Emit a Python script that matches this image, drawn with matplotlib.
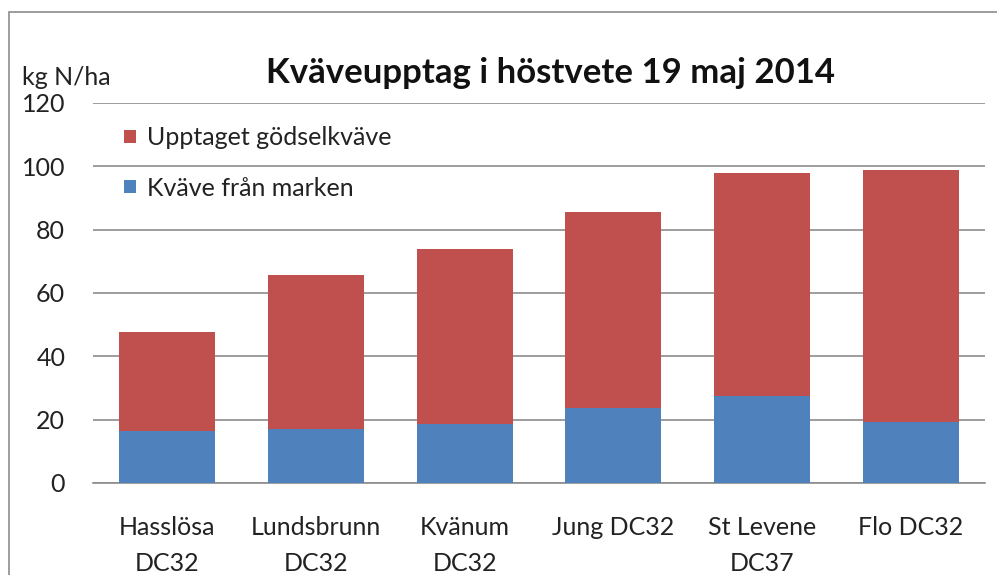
import matplotlib.pyplot as plt
from matplotlib.patches import Rectangle

plt.rcParams['font.family'] = ['Lato', 'DejaVu Sans']

sites = ['Hasslösa\nDC32', 'Lundsbrunn\nDC32', 'Kvänum\nDC32', 'Jung DC32', 'St Levene\nDC37', 'Flo DC32']
mark = [16.4, 16.9, 18.5, 23.6, 27.5, 19.4]       # Kväve från marken
total = [47.8, 65.8, 74.0, 85.7, 97.8, 98.8]
godsel = [t - m for t, m in zip(total, mark)]      # Upptaget gödselkväve

blue = '#4F81BD'
red = '#C0504D'

fig = plt.figure(figsize=(9.97, 5.75), dpi=100)
ax = fig.add_axes([0.0933, 0.16, 0.8947, 0.661])

x = range(len(sites))
b1 = ax.bar(x, mark, width=0.645, color=blue, label='Kväve från marken', zorder=3)
b2 = ax.bar(x, godsel, bottom=mark, width=0.645, color=red, label='Upptaget gödselkväve', zorder=3)

ax.set_xlim(-0.5, len(sites) - 0.5)
ax.set_ylim(0, 120)
ax.set_yticks(range(0, 121, 20))
ax.yaxis.grid(True, color='#8c8c8c', linewidth=1.2, zorder=0)
for s in ['top', 'right', 'left']:
    ax.spines[s].set_visible(False)
ax.spines['bottom'].set_color('#8c8c8c')
ax.spines['bottom'].set_linewidth(1.2)
ax.tick_params(axis='y', length=0, pad=20, labelsize=18, colors='#222222')
ax.tick_params(axis='x', length=0, pad=24, labelsize=18, colors='#222222')
ax.set_xticks(list(x))
ax.set_xticklabels(sites, linespacing=1.65)

leg = ax.legend(handles=[b2, b1], loc='upper left', bbox_to_anchor=(0.01, 0.998),
                frameon=False, fontsize=18, handlelength=0.45, handleheight=0.45,
                handletextpad=0.45, labelspacing=1.1)
for t in leg.get_texts():
    t.set_color('#222222')

fig.text(0.552, 0.873, 'Kväveupptag i höstvete 19 maj 2014', ha='center', va='center',
         fontsize=25, fontweight='bold', color='#111111')
fig.text(0.067, 0.866, 'kg N/ha', ha='center', va='center', fontsize=18, color='#222222')

fig.patches.append(Rectangle((9 / 997, -0.1), 1.2, 1 - 12 / 575 + 0.1, transform=fig.transFigure,
                             fill=False, edgecolor='#8c8c8c', linewidth=1.2))

fig.savefig('out.png', dpi=100)
